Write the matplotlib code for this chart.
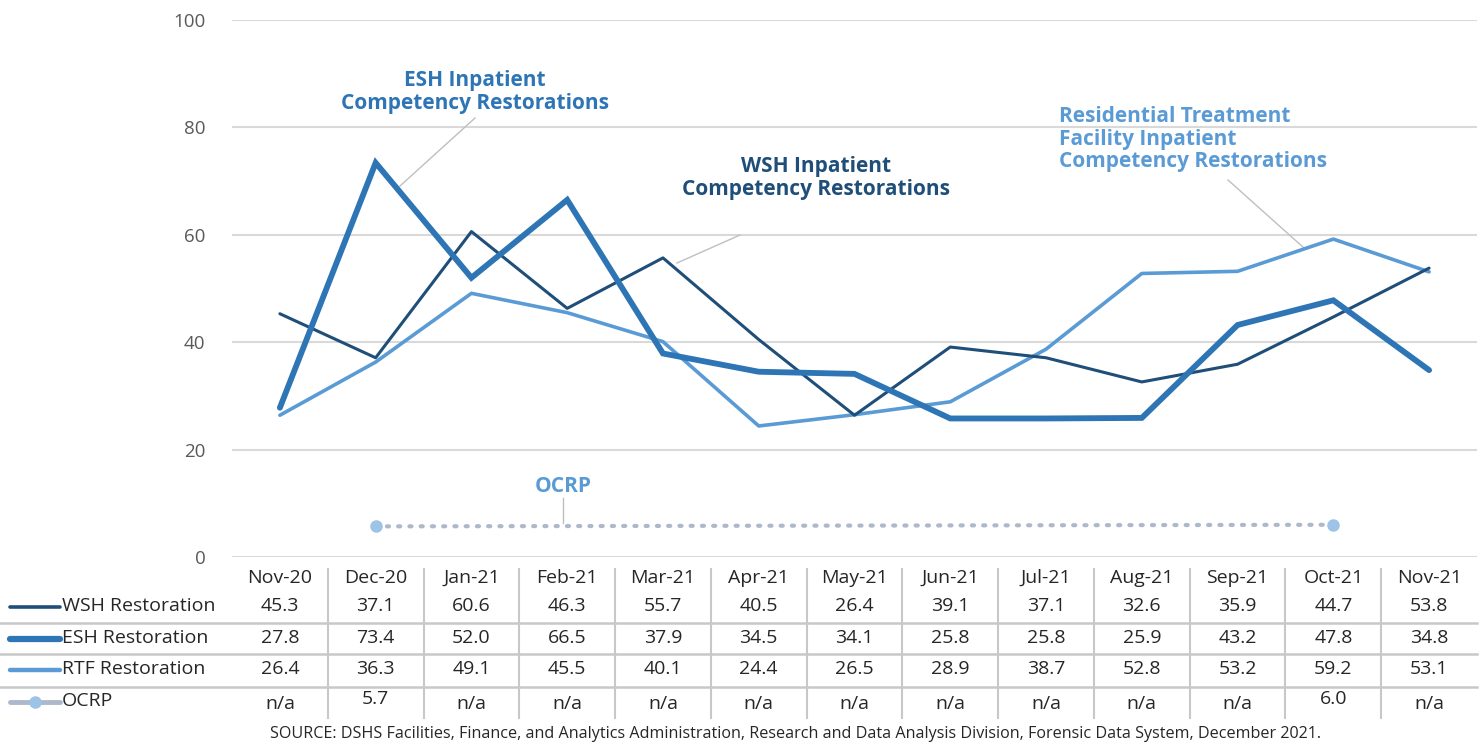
import matplotlib
matplotlib.use("Agg")
import matplotlib.pyplot as plt
import matplotlib.transforms as mtransforms
from matplotlib.lines import Line2D
import numpy as np

months = ["Nov-20", "Dec-20", "Jan-21", "Feb-21", "Mar-21", "Apr-21", "May-21",
          "Jun-21", "Jul-21", "Aug-21", "Sep-21", "Oct-21", "Nov-21"]
wsh = [45.3, 37.1, 60.6, 46.3, 55.7, 40.5, 26.4, 39.1, 37.1, 32.6, 35.9, 44.7, 53.8]
esh = [27.8, 73.4, 52.0, 66.5, 37.9, 34.5, 34.1, 25.8, 25.8, 25.9, 43.2, 47.8, 34.8]
rtf = [26.4, 36.3, 49.1, 45.5, 40.1, 24.4, 26.5, 28.9, 38.7, 52.8, 53.2, 59.2, 53.1]
ocrp = [None, 5.7, None, None, None, None, None, None, None, None, None, 6.0, None]
yticks = [0, 20, 40, 60, 80, 100]
row_labels = ["WSH Restoration", "ESH Restoration", "RTF Restoration", "OCRP"]

C_WSH = "#1F4E79"
C_ESH = "#2E75B6"
C_RTF = "#5B9BD5"
C_OCRP_M = "#9DC3E6"
C_OCRP_L = "#ADB9CA"
GRID = "#D9D9D9"
TXT = "#262626"

plt.rcParams['font.family'] = ['Open Sans', 'DejaVu Sans']

W, H = 1484, 747
fig = plt.figure(figsize=(W / 100, H / 100), dpi=100)
ax = fig.add_axes([232 / W, 1 - 557 / H, (1477 - 232) / W, (557 - 20) / H])

x = np.arange(len(months))
ax.set_xlim(-0.5, len(months) - 0.5)
ax.set_ylim(0, 100)
for t in yticks:
    ax.axhline(t, color=GRID, lw=1.5, zorder=0)
for s in ax.spines.values():
    s.set_visible(False)
ax.set_xticks([])
ax.set_yticks(yticks)
ax.set_yticklabels([str(t) for t in yticks], fontsize=13.5, color="#595959")
ax.tick_params(axis='y', length=0, pad=19)

ax.plot(x, rtf, color=C_RTF, lw=2.6, solid_capstyle='round', zorder=3)
ax.plot(x, wsh, color=C_WSH, lw=2.2, solid_capstyle='round', zorder=4)
ax.plot(x, esh, color=C_ESH, lw=4.2, solid_capstyle='round', solid_joinstyle='miter', zorder=5)

ox = [i for i, v in enumerate(ocrp) if v is not None]
oy = [v for v in ocrp if v is not None]
ax.plot(ox, oy, color=C_OCRP_L, lw=3, ls=(0, (0.5, 2.2)), dash_capstyle='round', zorder=3)
ax.plot(ox, oy, 'o', color=C_OCRP_M, ms=8, zorder=4)

def px2data(px, py):
    inv = ax.transData.inverted()
    return inv.transform((px, H - py))

def annot(text, color, tx, ty, lx0, ly0, lx1, ly1, ha='center'):
    p0 = px2data(lx0, ly0)
    p1 = px2data(lx1, ly1)
    ax.plot([p0[0], p1[0]], [p0[1], p1[1]], color="#BFBFBF", lw=1, zorder=2)
    fig.text(tx / W, 1 - ty / H, text, color=color, fontsize=15, fontweight='bold',
             ha=ha, va='center', linespacing=1.1)

annot("ESH Inpatient\nCompetency Restorations", C_ESH, 475, 92, 475, 118, 400, 186)
annot("WSH Inpatient\nCompetency Restorations", C_WSH, 816, 178, 740, 235, 677, 263)
annot("Residential Treatment\nFacility Inpatient\nCompetency Restorations", C_RTF,
      1059, 139, 1228, 180, 1304, 248, ha='left')
annot("OCRP", C_RTF, 563, 486, 563, 498, 563, 523)

trans = mtransforms.blended_transform_factory(ax.transData, fig.transFigure)
def fy(py):
    return 1 - py / H

TFS = 14
header_y = 578
row_y = [606, 638, 669, 704]
for i, m in enumerate(months):
    fig.text(i, fy(header_y), m, transform=trans, fontsize=TFS, color=TXT, ha='center', va='center')
series = [wsh, esh, rtf, ocrp]
for r, (vals, y) in enumerate(zip(series, row_y)):
    for i, v in enumerate(vals):
        s = "n/a" if v is None else f"{v:.1f}"
        yy = y - 5 if (r == 3 and v is not None) else y
        fig.text(i, fy(yy), s, transform=trans, fontsize=TFS, color=TXT, ha='center', va='center')

for py in [623, 654, 687]:
    fig.add_artist(Line2D([0, 1477 / W], [fy(py), fy(py)], color="#C8C8C8", lw=1.8,
                          transform=fig.transFigure))
for i in range(len(months) - 1):
    fig.add_artist(Line2D([i + 0.5, i + 0.5], [fy(569), fy(718)], color="#C8C8C8", lw=1.5,
                          transform=trans))

styles = [(C_WSH, 2.6), (C_ESH, 4.5), (C_RTF, 3.2), (C_OCRP_L, 3.5)]
for (c, lw), lab, y in zip(styles, row_labels, row_y):
    yy = y - 2 if lab == "OCRP" else y + 1
    fig.add_artist(Line2D([10 / W, 60 / W], [fy(yy), fy(yy)], color=c, lw=lw,
                          solid_capstyle='round', transform=fig.transFigure))
    if lab == "OCRP":
        fig.add_artist(Line2D([35 / W], [fy(yy)], marker='o', color=C_OCRP_M, ms=8,
                              transform=fig.transFigure))
    fig.text(62 / W, fy(y - 3 if lab == "OCRP" else y), lab, fontsize=TFS, color=TXT,
             ha='left', va='center')

fig.text(795 / W, fy(734), "SOURCE: DSHS Facilities, Finance, and Analytics Administration, Research and Data Analysis Division, Forensic Data System, December 2021.",
         fontsize=11.6, color=TXT, ha='center', va='center')

fig.savefig("out.png", dpi=100)
